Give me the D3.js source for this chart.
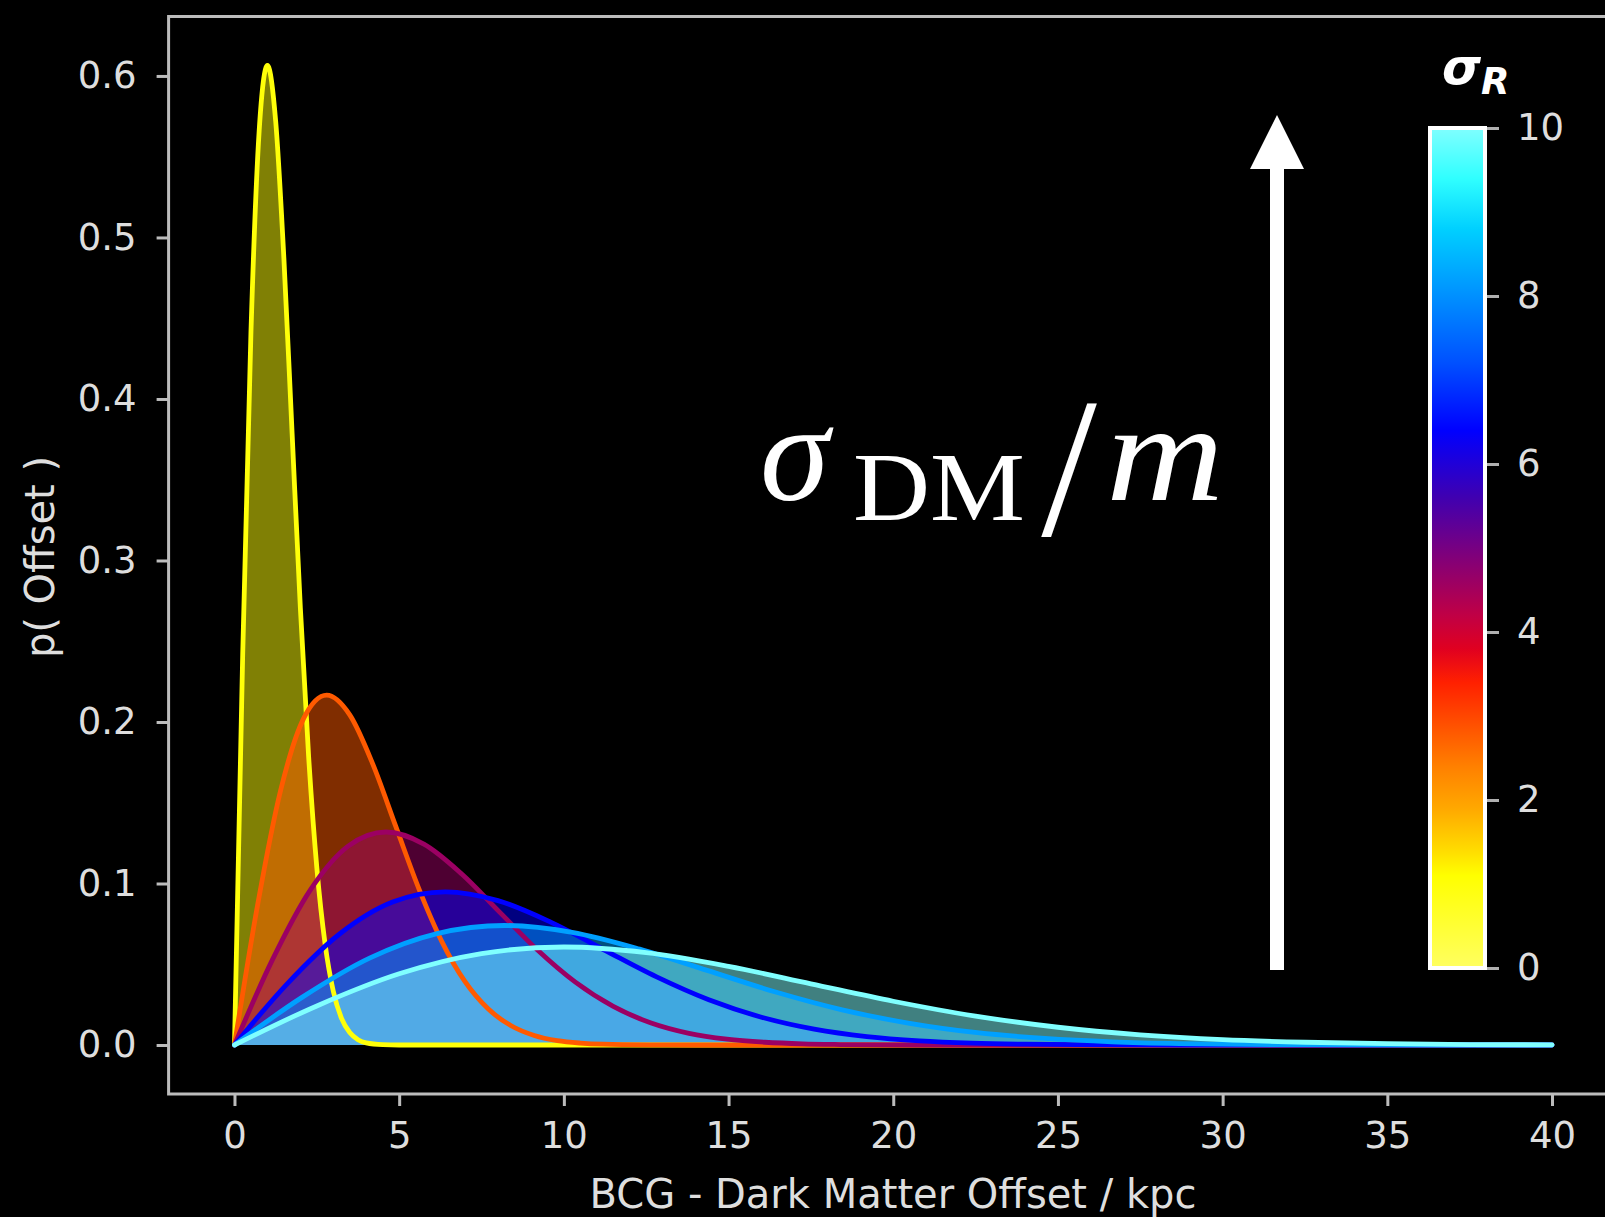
<!DOCTYPE html>
<html>
<head>
<meta charset="utf-8">
<script src="https://cdn.jsdelivr.net/npm/d3@7"></script>
<style>
  html, body { margin: 0; padding: 0; background: #000; }
  svg { display: block; }
</style>
</head>
<body>
<svg id="chart" width="1605" height="1217"></svg>
<script>
// Offset distributions for six values of the scatter width sigma_R (kpc)
const sigmaR = [1, 2.8, 4.6, 6.4, 8.2, 10];

const offsetA  = [0, 0.25, 0.5, 0.75, 1, 1.25, 1.5, 1.75, 2, 2.25, 2.5, 2.75, 3, 3.25, 3.5, 3.75, 4, 4.5, 5, 40];
const densityA = [0, 0.2423, 0.4412, 0.5661, 0.6065, 0.5722, 0.4870, 0.3785, 0.2707, 0.1790, 0.1098, 0.0627, 0.0333, 0.0165, 0.0077, 0.0033, 0.0013, 0.0002, 0, 0];

const offsetB  = [0, 0.7, 1.4, 2.1, 2.8, 3.5, 4.2, 4.9, 5.6, 6.3, 7.0, 7.7, 8.4, 9.1, 9.8, 10.5, 11.2, 12.6, 14, 40];
const densityB = [0, 0.0865, 0.1576, 0.2022, 0.2166, 0.2044, 0.1739, 0.1352, 0.0967, 0.0639, 0.0392, 0.0224, 0.0119, 0.0059, 0.0027, 0.0012, 0.0005, 0.0001, 0, 0];

const offsetC  = [0, 1.15, 2.3, 3.45, 4.6, 5.75, 6.9, 8.05, 9.2, 10.35, 11.5, 12.65, 13.8, 14.95, 16.1, 17.25, 18.4, 20.7, 23, 40];
const densityC = [0, 0.0527, 0.0959, 0.1231, 0.1319, 0.1244, 0.1059, 0.0823, 0.0588, 0.0389, 0.0239, 0.0136, 0.0072, 0.0036, 0.0017, 0.0007, 0.0003, 0, 0, 0];

const offsetD  = [0, 1.6, 3.2, 4.8, 6.4, 8, 9.6, 11.2, 12.8, 14.4, 16, 17.6, 19.2, 20.8, 22.4, 24, 25.6, 28.8, 32, 40];
const densityD = [0, 0.0379, 0.0689, 0.0885, 0.0948, 0.0894, 0.0761, 0.0591, 0.0423, 0.0280, 0.0172, 0.0098, 0.0052, 0.0026, 0.0012, 0.0005, 0.0002, 0, 0, 0];

const offsetE  = [0, 2.05, 4.1, 6.15, 8.2, 10.25, 12.3, 14.35, 16.4, 18.45, 20.5, 22.55, 24.6, 26.65, 28.7, 30.75, 32.8, 36.9, 40];
const densityE = [0, 0.0295, 0.0538, 0.0690, 0.0740, 0.0698, 0.0594, 0.0462, 0.0330, 0.0218, 0.0134, 0.0076, 0.0041, 0.0020, 0.0009, 0.0004, 0.0002, 0, 0];

const offsetF  = [0, 2.5, 5, 7.5, 10, 12.5, 15, 17.5, 20, 22.5, 25, 27.5, 30, 32.5, 35, 37.5, 40];
const densityF = [0, 0.0242, 0.0441, 0.0566, 0.0607, 0.0572, 0.0487, 0.0379, 0.0271, 0.0179, 0.0110, 0.0063, 0.0033, 0.0017, 0.0008, 0.0003, 0.0001];

// Tick values
const xTicks = [0, 5, 10, 15, 20, 25, 30, 35, 40];
const yTicks = [0, 0.1, 0.2, 0.3, 0.4, 0.5, 0.6];
const cbarTicks = [0, 2, 4, 6, 8, 10];

// Colour map used for sigma_R (value -> colour)
const cmapValues = [0, 1.1, 1.4, 1.9, 2.4, 2.9, 3.4, 3.8, 4.2, 4.9, 5.6, 6.4, 7.2, 8.0, 8.8, 9.4, 10];
const cmapColors = ['#ffff60', '#ffff00', '#ffdc00', '#ffa800', '#ff8000', '#ff5000', '#ff2000', '#e00020',
                    '#c00045', '#80007a', '#4000b0', '#0000ff', '#0050ff', '#0090ff', '#00d0ff', '#30ffff', '#80ffff'];

const offsets = [offsetA, offsetB, offsetC, offsetD, offsetE, offsetF];
const densities = [densityA, densityB, densityC, densityD, densityE, densityF];
const curves = sigmaR.map((s, i) => ({
  sigma: s,
  points: offsets[i].map((x, j) => [x, densities[i][j]])
}));

const svg = d3.select('#chart');
svg.append('rect').attr('width', 1605).attr('height', 1217).attr('fill', '#000');

const cmap = d3.scaleLinear().domain(cmapValues).range(cmapColors).interpolate(d3.interpolateRgb);

// Axes: data range 0..40 and 0..0.6065 padded by 5%
const x = d3.scaleLinear().domain([-2, 42]).range([168.6, 1617.9]);
const y = d3.scaleLinear().domain([-0.03033, 0.63687]).range([1094, 16.4]);

const spineColor = '#bcbcbc';
const textColor = '#dedede';
const font = 'DejaVu Sans, sans-serif';

svg.append('defs').append('clipPath').attr('id', 'plotClip')
  .append('rect').attr('x', x(-2)).attr('y', y(0.63687)).attr('width', x(42) - x(-2)).attr('height', y(-0.03033) - y(0.63687));

const plot = svg.append('g').attr('clip-path', 'url(#plotClip)');

const area = d3.area().x(d => x(d[0])).y0(y(0)).y1(d => y(d[1])).curve(d3.curveMonotoneX);
const line = d3.line().x(d => x(d[0])).y(d => y(d[1])).curve(d3.curveMonotoneX);

plot.selectAll('path.fill').data(curves).join('path')
  .attr('class', 'fill')
  .attr('d', d => area(d.points))
  .attr('fill', d => cmap(d.sigma))
  .attr('fill-opacity', 0.5);

plot.selectAll('path.curve').data(curves).join('path')
  .attr('class', 'curve')
  .attr('d', d => line(d.points))
  .attr('fill', 'none')
  .attr('stroke', d => cmap(d.sigma))
  .attr('stroke-width', 4.8)
  .attr('stroke-linejoin', 'round')
  .attr('stroke-linecap', 'round');

// Spines
const spines = svg.append('g').attr('stroke', spineColor).attr('stroke-width', 3).attr('fill', 'none');
spines.append('path').attr('d', `M${x(-2)},${y(-0.03033)}V${y(0.63687)}H${x(42)}V${y(-0.03033)}Z`);

// Y axis
const yAxis = svg.append('g').attr('transform', `translate(${x(-2)},0)`)
  .call(d3.axisLeft(y).tickValues(yTicks).tickFormat(d3.format('.1f')).tickSize(12).tickPadding(20));
yAxis.select('.domain').remove();
yAxis.selectAll('.tick line').attr('stroke', spineColor).attr('stroke-width', 3);
yAxis.selectAll('.tick text').attr('fill', textColor).attr('font-family', font).attr('font-size', 37);

// X axis
const xAxis = svg.append('g').attr('transform', `translate(0,${y(-0.03033)})`)
  .call(d3.axisBottom(x).tickValues(xTicks).tickFormat(d3.format('d')).tickSize(12).tickPadding(16));
xAxis.select('.domain').remove();
xAxis.selectAll('.tick line').attr('stroke', spineColor).attr('stroke-width', 3);
xAxis.selectAll('.tick text').attr('fill', textColor).attr('font-family', font).attr('font-size', 37);

// Axis labels
svg.append('text')
  .attr('x', 893).attr('y', 1208)
  .attr('text-anchor', 'middle')
  .attr('fill', textColor).attr('font-family', font).attr('font-size', 40)
  .text('BCG - Dark Matter Offset / kpc');

svg.append('text')
  .attr('transform', 'translate(54,557) rotate(-90)')
  .attr('text-anchor', 'middle')
  .attr('fill', textColor).attr('font-family', font).attr('font-size', 40)
  .text('p( Offset )');

// Colour bar
const cb = d3.scaleLinear().domain([0, 10]).range([968, 128]);
const grad = svg.select('defs').append('linearGradient')
  .attr('id', 'cbarGrad').attr('x1', 0).attr('y1', 1).attr('x2', 0).attr('y2', 0);
grad.selectAll('stop').data(cmapValues).join('stop')
  .attr('offset', d => d / 10)
  .attr('stop-color', (d, i) => cmapColors[i]);

svg.append('rect')
  .attr('x', 1430).attr('y', cb(10)).attr('width', 55).attr('height', cb(0) - cb(10))
  .attr('fill', 'url(#cbarGrad)')
  .attr('stroke', '#ffffff').attr('stroke-width', 4);

const cAxis = svg.append('g').attr('transform', 'translate(1487,0)')
  .call(d3.axisRight(cb).tickValues(cbarTicks).tickFormat(d3.format('d')).tickSize(12).tickPadding(18));
cAxis.select('.domain').remove();
cAxis.selectAll('.tick line').attr('stroke', '#b0b0b0').attr('stroke-width', 3);
cAxis.selectAll('.tick text').attr('fill', textColor).attr('font-family', font).attr('font-size', 37);

// Colour bar title
const cTitle = svg.append('text')
  .attr('x', 1442).attr('y', 84)
  .attr('fill', '#ffffff').attr('font-family', font)
  .attr('font-weight', 'bold').attr('font-style', 'italic');
cTitle.append('tspan').attr('font-size', 50).text('σ');
cTitle.append('tspan').attr('font-size', 37).attr('dy', 10).text('R');

// Arrow indicating increasing cross-section
svg.append('path')
  .attr('d', 'M1270,970 V169 H1250 L1277,115 L1304,169 H1284 V970 Z')
  .attr('fill', '#ffffff');

// sigma_DM / m annotation
const serif = 'Liberation Serif, Times New Roman, serif';
const ann = svg.append('g').attr('fill', '#ffffff').attr('font-family', serif);
ann.append('text').attr('x', 760).attr('y', 500).attr('font-size', 140).attr('font-style', 'italic').text('σ');
ann.append('text').attr('x', 853).attr('y', 520).attr('font-size', 98)
  .attr('textLength', 172).attr('lengthAdjust', 'spacingAndGlyphs').text('DM');
ann.append('text').attr('x', 1069).attr('y', 535)
  .attr('text-anchor', 'middle').attr('font-size', 200).attr('font-weight', 300).text('/');
ann.append('text').attr('x', 1106).attr('y', 500).attr('font-size', 140).attr('font-style', 'italic')
  .attr('textLength', 118).attr('lengthAdjust', 'spacingAndGlyphs').text('m');
</script>
</body>
</html>
